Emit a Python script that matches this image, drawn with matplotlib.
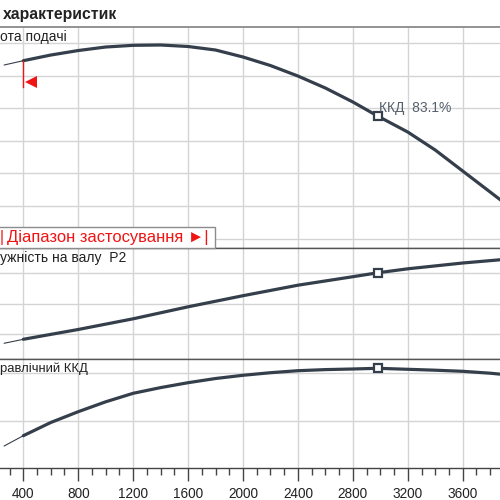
import matplotlib
matplotlib.use("Agg")
import matplotlib.pyplot as plt
from matplotlib.patches import Rectangle
from matplotlib.ticker import MultipleLocator

plt.rcParams['font.family'] = ['Liberation Sans', 'DejaVu Sans']

# ---------------- data ----------------
# flow Q (m3/h) for the thin extrapolated start of every curve
q_thin = [260, 400]
h_thin = [26.61, 27.27]
p_thin = [84.76, 91.31]
eta_thin = [49.29, 53.64]

# head curve (operating part)
q_head = [400, 600, 800, 1000, 1200, 1400, 1600, 1800, 2000, 2200, 2400,
          2600, 2800, 2980, 3200, 3400, 3600, 3800, 4000]
head = [27.27, 28.14, 28.83, 29.37, 29.63, 29.68, 29.45, 28.91, 27.84, 26.53,
        24.92, 23.08, 20.94, 18.79, 16.33, 13.57, 10.35, 7.13, 3.91]

# shaft power P2 (kW)
q_power = [400, 800, 1200, 1600, 2000, 2400, 2800, 2980, 3200, 3600, 3870, 4000]
power = [91.31, 107.38, 124.92, 144.59, 162.79, 180.0, 193.93, 200.33,
         206.89, 216.39, 221.64, 223.93]

# hydraulic efficiency (%)
q_eta = [400, 600, 800, 1000, 1200, 1400, 1600, 1800, 2000, 2200, 2400,
         2600, 2800, 2980, 3200, 3400, 3600, 3800, 4000]
eta = [53.64, 59.22, 63.78, 67.96, 71.55, 73.96, 76.03, 77.80, 79.16, 80.25,
       81.10, 81.56, 81.82, 82.11, 81.69, 81.31, 80.84, 80.04, 78.94]

# duty point
q_duty = 2980
h_duty = 18.79
p_duty = 200.33
eta_duty = 82.11
eta_label = "ККД  83.1%"

# operating range start
q_min = 400

x_ticks = [0, 400, 800, 1200, 1600, 2000, 2400, 2800, 3200, 3600, 4000]
x_tick_labels = ['', '400', '800', '1200', '1600', '2000', '2400', '2800',
                 '3200', '3600', '']
head_grid = [0, 5, 10, 15, 20, 25, 30]
power_grid = [100, 150, 200]
eta_grid = [60, 80]

title_text = "характеристик"
head_label = "ота подачі"
power_label = "ужність на валу  P2"
eta_label_panel = "равлічний ККД"
range_text = "Діапазон застосування ►|"

# ---------------- styling ----------------
W = H = 500
CURVE = '#353f4b'
GRID = '#d4d4d4'
RED = '#f01414'


def fx(px):
    return px / W


def fy(py):
    return 1 - py / H


fig = plt.figure(figsize=(5, 5), dpi=100)
fig.patch.set_facecolor('white')

xlim = (-133.8, 4235.8)
left_px, right_px = -50, 550


def make_ax(top, bottom, ylim, ygrid):
    ax = fig.add_axes([fx(left_px), fy(bottom), (right_px - left_px) / W,
                       (bottom - top) / H])
    ax.set_xlim(*xlim)
    ax.set_ylim(*ylim)
    ax.set_yticks(ygrid)
    ax.set_xticks(x_ticks)
    ax.grid(True, color=GRID, lw=1.0, zorder=0)
    ax.set_axisbelow(True)
    ax.tick_params(axis='y', length=0, labelleft=False)
    for s in ('left', 'right'):
        ax.spines[s].set_visible(False)
    for s in ('top', 'bottom'):
        ax.spines[s].set_color('#555555')
        ax.spines[s].set_linewidth(1.0)
    return ax


ax1 = make_ax(27, 248, (-1.457, 32.44), head_grid)
ax2 = make_ax(248, 359, (59.0, 241.0), power_grid)
ax3 = make_ax(359, 468, (40.0, 86.04), eta_grid)
ax1.spines['top'].set_color('#8a8a8a')
ax1.spines['top'].set_linewidth(1.3)

for ax in (ax1, ax2):
    ax.tick_params(axis='x', length=0, labelbottom=False)

ax3.set_xticklabels(x_tick_labels)
ax3.xaxis.set_minor_locator(MultipleLocator(100))
ax3.tick_params(axis='x', which='major', length=9, width=1.0, color='#444444',
                labelsize=9.8, labelcolor='#222222', pad=4.5, direction='out')
ax3.tick_params(axis='x', which='minor', length=5, width=1.0, color='#444444',
                direction='out')
ax3.spines['bottom'].set_color('#444444')

# curves
for ax, qt, yt, q, y, qd, yd in ((ax1, q_thin, h_thin, q_head, head, q_duty, h_duty),
                                 (ax2, q_thin, p_thin, q_power, power, q_duty, p_duty),
                                 (ax3, q_thin, eta_thin, q_eta, eta, q_duty, eta_duty)):
    ax.plot(qt, yt, color=CURVE, lw=0.8, solid_capstyle='round', zorder=3)
    ax.plot(q, y, color=CURVE, lw=2.3, solid_capstyle='round',
            solid_joinstyle='round', zorder=3)
    ax.plot([qd], [yd], marker='s', ms=6.3, mfc='white', mec=CURVE, mew=1.6,
            zorder=4, clip_on=False)

# operating range start marker
ax1.plot([q_min, q_min], [h_thin[1], 23.2], color=RED, lw=1.0, zorder=4)
ax1.plot([q_min + 55], [23.95], marker='<', ms=8.3, color=RED, mew=0, zorder=4)

# duty annotation
fig.text(fx(379), fy(111.7), eta_label, fontsize=10, color='#56606c',
         ha='left', va='baseline')

# panel labels
fig.text(fx(0), fy(40.7), head_label, fontsize=10, color='#222222',
         ha='left', va='baseline')
fig.text(fx(0), fy(261.7), power_label, fontsize=10, color='#222222',
         ha='left', va='baseline')
fig.text(fx(0), fy(372.3), eta_label_panel, fontsize=9.4, color='#222222',
         ha='left', va='baseline')

# title
fig.text(fx(3), fy(19.3), title_text, fontsize=11.3, fontweight='bold',
         color='#222222', ha='left', va='baseline')

# range box
box = Rectangle((fx(-5), fy(248)), fx(220), (248 - 226.7) / H,
                transform=fig.transFigure, facecolor='white',
                edgecolor='#8c8c8c', lw=1.0, zorder=5)
fig.add_artist(box)
fig.text(fx(-0.5), fy(242), "|", fontsize=11.5, color=RED, ha='left',
         va='baseline', zorder=6)
fig.text(fx(7), fy(242), range_text, fontsize=11.9, color=RED, ha='left',
         va='baseline', zorder=6)

fig.savefig('out.png', dpi=100)
